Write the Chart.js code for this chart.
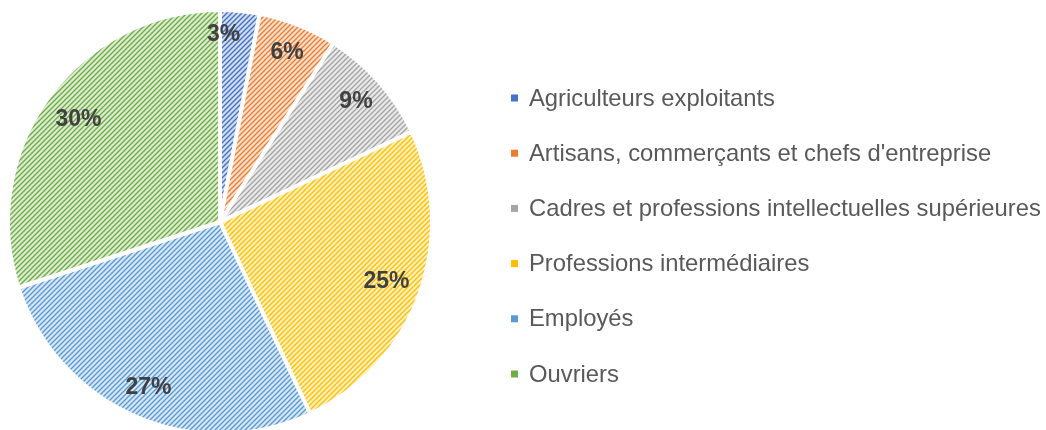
<!DOCTYPE html>
<html>
<head>
<meta charset="utf-8">
<script src="https://cdn.jsdelivr.net/npm/chart.js@4.4.1/dist/chart.umd.min.js"></script>
<style>
  html, body { margin: 0; padding: 0; background: #fff; overflow: hidden; }
  #wrap { position: relative; width: 1046px; height: 440px; }
</style>
</head>
<body>
<div id="wrap"><canvas id="pieChart"></canvas></div>
<script>
// données
const categories = [
  'Agriculteurs exploitants',
  "Artisans, commerçants et chefs d'entreprise",
  'Cadres et professions intellectuelles supérieures',
  'Professions intermédiaires',
  'Employés',
  'Ouvriers'
];
const shares = [3, 6, 9, 25, 27, 30];
const sliceColors = ['#4472C4', '#ED7D31', '#A5A5A5', '#FFC000', '#5B9BD5', '#70AD47'];

// motif hachuré (diagonales montantes)
function hatch(color) {
  const size = 5;
  const c = document.createElement('canvas');
  c.width = size; c.height = size;
  const ctx = c.getContext('2d');
  ctx.fillStyle = '#fff';
  ctx.fillRect(0, 0, size, size);
  ctx.globalAlpha = 0.24;
  ctx.fillStyle = color;
  ctx.fillRect(0, 0, size, size);
  ctx.globalAlpha = 1;
  ctx.strokeStyle = color;
  ctx.lineWidth = 1.4;
  ctx.beginPath();
  ctx.moveTo(-1, size + 1); ctx.lineTo(size + 1, -1);
  ctx.moveTo(-1, 1); ctx.lineTo(1, -1);
  ctx.moveTo(size - 1, size + 1); ctx.lineTo(size + 1, size - 1);
  ctx.stroke();
  return ctx.createPattern(c, 'repeat');
}

// étiquettes % sur les parts
const labelPlugin = {
  id: 'sliceLabels',
  afterDatasetsDraw(chart) {
    const ctx = chart.ctx;
    const meta = chart.getDatasetMeta(0);
    const ratios = [0.885, 0.86, 0.855, 0.835, 0.85, 0.825];
    const nudge = [-0.075, 0, 0, 0, 0, 0];
    ctx.save();
    ctx.font = 'bold 23px "Liberation Sans", Arial, sans-serif';
    ctx.fillStyle = '#404040';
    ctx.textAlign = 'center';
    ctx.textBaseline = 'middle';
    meta.data.forEach((arc, i) => {
      const p = arc.getProps(['x', 'y', 'startAngle', 'endAngle', 'outerRadius'], true);
      const mid = (p.startAngle + p.endAngle) / 2 + nudge[i];
      const r = p.outerRadius * ratios[i];
      ctx.fillText(shares[i] + '%', p.x + Math.cos(mid) * r, p.y + Math.sin(mid) * r);
    });
    ctx.restore();
  }
};

// légende dessinée à droite
const legendPlugin = {
  id: 'sideLegend',
  afterDraw(chart) {
    const ctx = chart.ctx;
    ctx.save();
    ctx.font = '23.8px "Liberation Sans", Arial, sans-serif';
    ctx.textBaseline = 'middle';
    categories.forEach((name, i) => {
      const y = 98 + i * 55.2;
      ctx.fillStyle = sliceColors[i];
      ctx.fillRect(511, y - 3.5, 7, 7);
      ctx.fillStyle = '#595959';
      ctx.fillText(name, 529, y + 1);
    });
    ctx.restore();
  }
};

new Chart(document.getElementById('pieChart'), {
  type: 'pie',
  data: {
    labels: categories,
    datasets: [{
      data: shares,
      backgroundColor: sliceColors.map(hatch),
      borderColor: '#ffffff',
      borderWidth: 4
    }]
  },
  options: {
    responsive: true,
    maintainAspectRatio: false,
    animation: false,
    layout: { padding: { left: 6, top: 8, right: 612, bottom: 4 } },
    plugins: {
      legend: { display: false },
      tooltip: { enabled: false }
    }
  },
  plugins: [labelPlugin, legendPlugin]
});
</script>
</body>
</html>
